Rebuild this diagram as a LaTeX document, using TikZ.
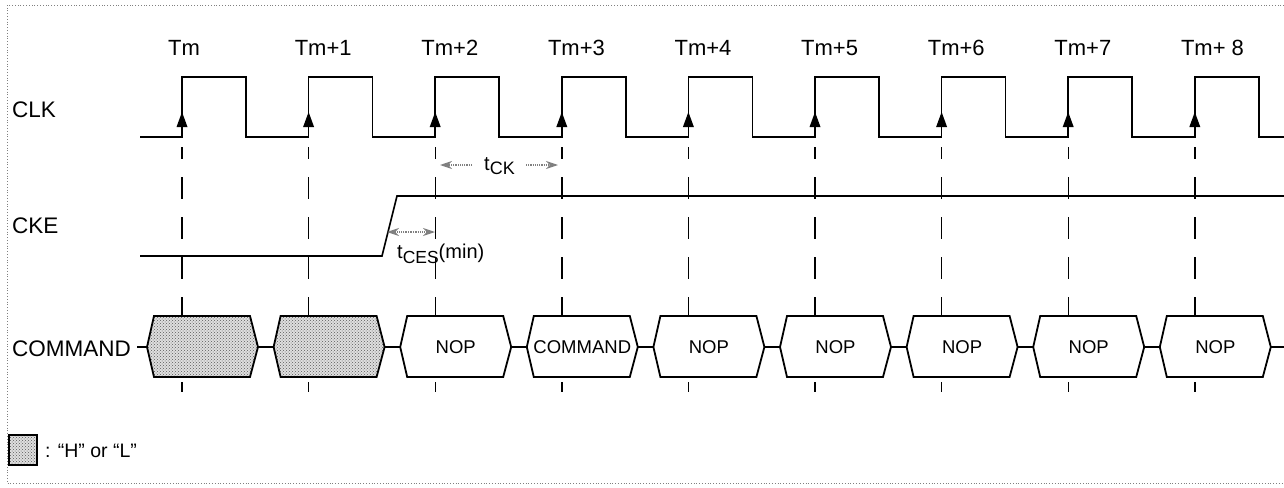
\documentclass[tikz,border=0pt]{standalone}
\usepackage{fontspec}
\setmainfont{Liberation Sans}
\usetikzlibrary{patterns,arrows.meta}
\begin{document}
\begin{tikzpicture}[x=1pt,y=-1pt,
  wave/.style={line width=1.6pt, line join=miter},
  guide/.style={line width=1.4pt, dash pattern=on 22pt off 18pt, dash phase=10pt},
  tickline/.style={line width=1.4pt},
  sig/.style={font=\fontsize{22.5}{24}\selectfont, anchor=base west, inner sep=0pt},
  tlab/.style={font=\fontsize{22}{24}\selectfont, anchor=base west, inner sep=0pt},
  boxtxt/.style={font=\fontsize{18.5}{20}\selectfont, anchor=base, inner sep=0pt},
  bus/.style={line width=1.8pt, fill=white},
  hz/.style={line width=1.8pt, preaction={fill=gray!25}, pattern=crosshatch dots, pattern color=gray!70!black},
  timing/.style={gray, line width=1.2pt, densely dotted, -{Stealth[length=12pt,width=8pt,fill=gray]}},
  meas/.style={font=\fontsize{20}{22}\selectfont, anchor=base west, inner sep=0pt},
]
\useasboundingbox (0,0) rectangle (1284,487);
\draw[gray, dotted, line width=0.8pt] (1284,5) -- (7,5) -- (7,483) -- (1284,483);

% signal names
\node[sig] (clk) at (12,117) {CLK};
\node[sig] (cke) at (12,233) {CKE};
\node[sig] (cmd) at (12,356) {COMMAND};

% clock labels, arrows, guides
\foreach \k/\lab in {0/Tm,1/Tm+1,2/Tm+2,3/Tm+3,4/Tm+4,5/Tm+5,6/Tm+6,7/Tm+7,8/Tm+ 8} {
  \pgfmathsetmacro\x{182+126.6*\k}
  \node[tlab] (T\k) at (\x-14,56) {\lab};
  \coordinate (e\k) at (\x,137);
  \fill (\x,112) -- (\x-5.5,127) -- (\x+5.5,127) -- cycle;
  \draw[guide] (\x,147) -- (\x,316);
  \draw[tickline] (\x,382) -- (\x,392);
}

% CLK waveform
\draw[wave] (140,137) \foreach \k in {0,...,8}{ -- ({182+126.6*\k},137) -- ++(0,-60) -- ++(64,0) -- ++(0,60)} -- (1284,137);

% CKE waveform
\draw[wave] (140,256) -- (382,256) -- (397,196) -- (1284,196);

% command bus
\foreach \k/\txt/\st in {0//hz,1//hz,2/NOP/bus,3/COMMAND/bus,4/NOP/bus,5/NOP/bus,6/NOP/bus,7/NOP/bus,8/NOP/bus} {
  \pgfmathsetmacro\x{182+126.6*\k}
  \coordinate (bL\k) at (\x-35,347);
  \coordinate (bR\k) at (\x+76,347);
  \draw[\st] (\x-35,347) -- (\x-28,316) -- (\x+68,316) -- (\x+76,347) -- (\x+68,377) -- (\x-28,377) -- cycle;
  \node[boxtxt] (bt\k) at (\x+20.5,353) {\txt};
}
\draw[wave] (cmd.east |- bL0) ++(6,0) -- (bL0);
\foreach \k [evaluate=\k as \n using int(\k+1)] in {0,...,7} {
  \draw[wave] (bR\k) -- (bL\n);
}
\coordinate (busend) at (1284,347);
\draw[wave] (bR8) -- (busend);

% tCK
\node[meas] (tck) at (484,170) {t\raisebox{-4pt}{\fontsize{18}{18}\selectfont CK}};
\coordinate (ckA) at (472,165);
\coordinate (ckB) at (440,165);
\coordinate (ckC) at (526,165);
\coordinate (ckD) at (558,165);
\draw[timing] (ckA) -- (ckB);
\draw[timing] (ckC) -- (ckD);

% tCES
\node[meas] (tces) at (397,258) {t\raisebox{-5pt}{\fontsize{17.5}{18}\selectfont CES}(min)};
\coordinate (ceM) at (411,232);
\coordinate (ceL) at (387,232);
\coordinate (ceR) at (435,232);
\draw[timing] (ceM) -- (ceL);
\draw[timing] (ceM) -- (ceR);

% legend
\node[hz, draw, minimum width=28pt, minimum height=30pt, inner sep=0pt] (legbox) at (23,450) {};
\node[font=\fontsize{19.5}{21}\selectfont, anchor=base west, inner sep=0pt] (leg) at (45,457) {: “H” or “L”};
\end{tikzpicture}
\end{document}
